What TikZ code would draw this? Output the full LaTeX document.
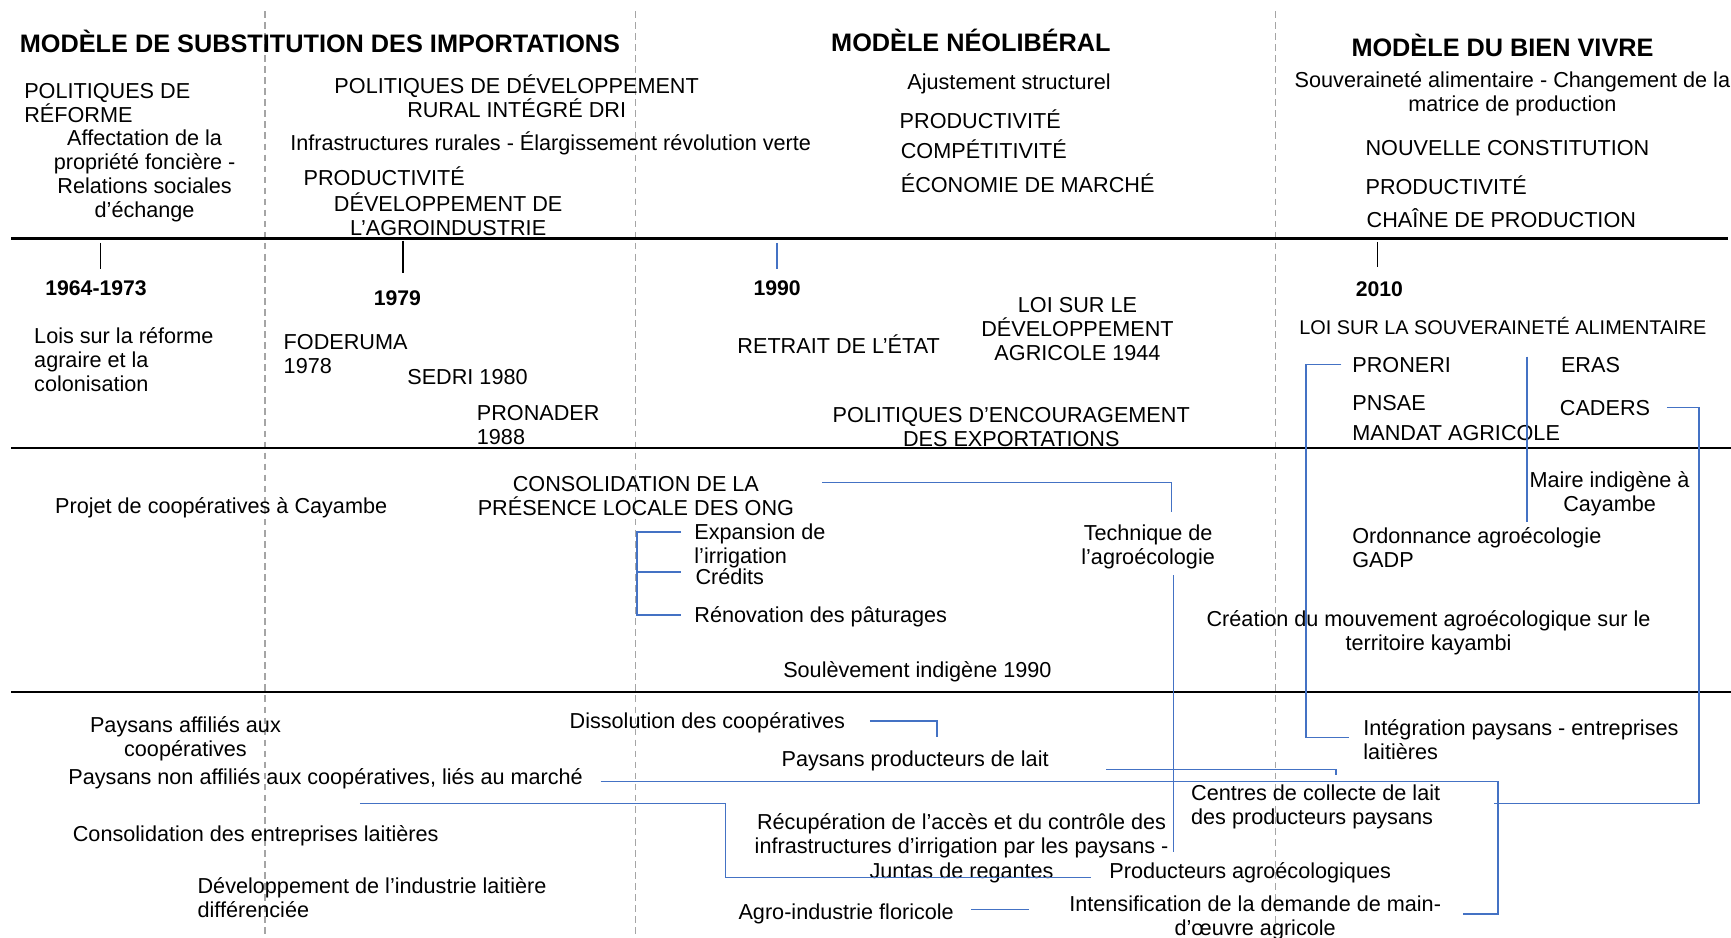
\documentclass[tikz,border=0pt]{standalone}
\usepackage{fontspec}
\setmainfont{Liberation Sans}
\usetikzlibrary{calc}
\definecolor{bl}{RGB}{68,114,196}
\definecolor{dg}{RGB}{165,165,165}
\newcommand\fs{\fontsize{9.8pt}{10.9pt}\selectfont\lineskiplimit=-20pt\relax}
\newcommand\fsm{\fontsize{9pt}{10.9pt}\selectfont\lineskiplimit=-20pt\relax}
\newcommand\sr{\rule[-0.22em]{0pt}{0.95em}}
\tikzset{
 tx/.style={font=\fs, inner sep=0pt, outer sep=0pt, yshift=-1pt, execute at begin node=\sr, execute at end node=\sr},
 tl/.style={tx, align=left, anchor=west},
 tc/.style={tx, align=center, anchor=center},
 ttl/.style={inner sep=0pt, outer sep=0pt, font=\fontsize{11.45pt}{13pt}\selectfont\bfseries, execute at begin node=\sr},
 yr/.style={inner sep=0pt, outer sep=0pt, yshift=-1pt, font=\fontsize{9.6pt}{11pt}\selectfont\bfseries, execute at begin node=\sr},
 blk/.style={line width=1pt, black},
 tickm/.style={line width=0.6pt, black},
 conn/.style={draw=bl, line width=0.7pt},
 sepl/.style={draw=dg, line width=0.5pt, dash pattern=on 3pt off 2pt},
}
\begin{document}
\begin{tikzpicture}[x=0.5pt,y=-0.5pt]
\fill[white] (0,0) rectangle (1568,849);
\useasboundingbox (0,0) rectangle (1568,849);

% separators
\coordinate (s1t) at (240,10); \coordinate (s1b) at (240,849);
\coordinate (s2t) at (576,10); \coordinate (s2b) at (576,849);
\coordinate (s3t) at (1155,10); \coordinate (s3b) at (1155,849);
\draw[sepl] (s1t) -- (s1b);
\draw[sepl] (s2t) -- (s2b);
\draw[sepl] (s3t) -- (s3b);

% horizontal rules
\coordinate (h1l) at (10,216); \coordinate (h1r) at (1565,216);
\coordinate (h2l) at (10,406); \coordinate (h2r) at (1568,406);
\coordinate (h3l) at (10,627); \coordinate (h3r) at (1568,627);
\draw[blk] (h1l) -- (h1r);
\draw[blk] (h2l) -- (h2r);
\draw[blk] (h3l) -- (h3r);

% titles
\node[ttl, anchor=west] (t1) at (18,40) {MODÈLE DE SUBSTITUTION DES IMPORTATIONS};
\node[ttl] (t2) at (879.5,39) {MODÈLE NÉOLIBÉRAL};
\node[ttl] (t3) at (1361,44) {MODÈLE DU BIEN VIVRE};

% top band
\node[tl] (polref) at (22,93.5) {POLITIQUES DE\\RÉFORME};
\node[tc] (affect) at (131,157.5) {Affectation de la\\propriété foncière -\\Relations sociales\\d’échange};
\node[tc] (poldev) at (468,87.5) {POLITIQUES DE DÉVELOPPEMENT\\RURAL INTÉGRÉ DRI};
\node[tl] (infra) at (263,128) {Infrastructures rurales - Élargissement révolution verte};
\node[tl] (prod1) at (275,160) {PRODUCTIVITÉ};
\node[tc] (devagro) at (406,194.5) {DÉVELOPPEMENT DE\\L’AGROINDUSTRIE};
\node[tc] (ajust) at (914,74) {Ajustement structurel};
\node[tl] (prod2) at (815,108) {PRODUCTIVITÉ};
\node[tl] (compet) at (816,135) {COMPÉTITIVITÉ};
\node[tl] (econ) at (816,166) {ÉCONOMIE DE MARCHÉ};
\node[tc] (souv) at (1370,83.5) {Souveraineté alimentaire - Changement de la\\matrice de production};
\node[tl] (nouv) at (1237,134) {NOUVELLE CONSTITUTION};
\node[tl] (prod3) at (1237,168) {PRODUCTIVITÉ};
\node[tl] (chaine) at (1238,198) {CHAÎNE DE PRODUCTION};

% ticks and years
\coordinate (k1a) at (91,220); \coordinate (k1b) at (91,244);
\coordinate (k2a) at (365,218); \coordinate (k2b) at (365,247);
\coordinate (k3a) at (704,220); \coordinate (k3b) at (704,244);
\coordinate (k4a) at (1248,219); \coordinate (k4b) at (1248,242);
\draw[tickm] (k1a) -- (k1b);
\draw[tickm] (k2a) -- (k2b);
\draw[conn] (k3a) -- (k3b);
\draw[tickm] (k4a) -- (k4b);
\node[yr] (y1) at (87,261) {1964-1973};
\node[yr] (y2) at (360,270) {1979};
\node[yr] (y3) at (704,261) {1990};
\node[yr] (y4) at (1249.5,262) {2010};

% second band
\node[tl] (lois) at (31,326) {Lois sur la réforme\\agraire et la\\colonisation};
\node[tl] (foderuma) at (257,320.5) {FODERUMA\\1978};
\node[tl] (sedri) at (369,341) {SEDRI 1980};
\node[tl] (pronader) at (432,385) {PRONADER\\1988};
\node[tl] (retrait) at (668,312) {RETRAIT DE L’ÉTAT};
\node[tc] (loidev) at (976,298.5) {LOI SUR LE\\DÉVELOPPEMENT\\AGRICOLE 1944};
\node[tc] (polenc) at (916,386.5) {POLITIQUES D’ENCOURAGEMENT\\DES EXPORTATIONS};
\node[tl, font=\fsm] (loisouv) at (1177,295) {LOI SUR LA SOUVERAINETÉ ALIMENTAIRE};
\node[tl] (proneri) at (1225,330) {PRONERI};
\node[tl] (eras) at (1414,330) {ERAS};
\node[tl] (pnsae) at (1225,365) {PNSAE};
\node[tl] (caders) at (1413,369) {CADERS};
\node[tl] (mandat) at (1225,392) {MANDAT AGRICOLE};

% third band
\node[tl] (projet) at (50,458) {Projet de coopératives à Cayambe};
\node[tc] (consol) at (576,449) {CONSOLIDATION DE LA\\PRÉSENCE LOCALE DES ONG};
\node[tl] (expan) at (629,493) {Expansion de\\l’irrigation};
\node[tl] (credits) at (630,522) {Crédits};
\node[tl] (renov) at (629,557) {Rénovation des pâturages};
\node[tc] (soulev) at (831,607) {Soulèvement indigène 1990};
\node[tc] (tech) at (1040,493.5) {Technique de\\l’agroécologie};
\node[tc] (maire) at (1458,445.5) {Maire indigène à\\Cayambe};
\node[tl] (ordon) at (1225,496.5) {Ordonnance agroécologie\\GADP};
\node[tc] (creation) at (1294,571.5) {Création du mouvement agroécologique sur le\\territoire kayambi};

% fourth band
\node[tc] (payaff) at (168,667.5) {Paysans affiliés aux\\coopératives};
\node[tl] (paynon) at (62,704) {Paysans non affiliés aux coopératives, liés au marché};
\node[tl] (consolent) at (66,755) {Consolidation des entreprises laitières};
\node[tl] (devind) at (179,813) {Développement de l’industrie laitière\\différenciée};
\node[tl] (dissol) at (516,653) {Dissolution des coopératives};
\node[tl] (payprod) at (708,687) {Paysans producteurs de lait};
\node[tc] (recup) at (871,766.5) {Récupération de l’accès et du contrôle des\\infrastructures d’irrigation par les paysans -\\Juntas de regantes};
\node[tl] (agroflor) at (669,826) {Agro-industrie floricole};
\node[tl] (centres) at (1079,729) {Centres de collecte de lait\\des producteurs paysans};
\node[tl] (prodagro) at (1005,789) {Producteurs agroécologiques};
\node[tc] (intens) at (1137,829.5) {Intensification de la demande de main-\\d’œuvre agricole};
\node[tl] (integ) at (1235,670) {Intégration paysans - entreprises\\laitières};

% blue connectors
\coordinate (c1a) at (745,437); \coordinate (c1b) at (1061,437); \coordinate (c1c) at (1061,464);
\draw[conn] (c1a) -- (c1b) -- (c1c);
\coordinate (c2a) at (1063,521); \coordinate (c2b) at (1063,772);
\draw[conn] (c2a) -- (c2b);
\coordinate (c3a) at (617,482); \coordinate (c3b) at (577,482); \coordinate (c3c) at (577,557);
\coordinate (c3d) at (617,557); \coordinate (c3e) at (577,518); \coordinate (c3f) at (617,518);
\draw[conn] (c3a) -- (c3b) -- (c3c) -- (c3d);
\draw[conn] (c3e) -- (c3f);
\coordinate (c4a) at (1215,330); \coordinate (c4b) at (1183,330); \coordinate (c4c) at (1183,668); \coordinate (c4d) at (1222,668);
\draw[conn] (c4a) -- (c4b) -- (c4c) -- (c4d);
\coordinate (c5a) at (1383,323); \coordinate (c5b) at (1383,473);
\draw[conn] (c5a) -- (c5b);
\coordinate (c6a) at (1510,369); \coordinate (c6b) at (1539,369); \coordinate (c6c) at (1539,728); \coordinate (c6d) at (1353,728);
\draw[conn] (c6a) -- (c6b) -- (c6c) -- (c6d);
\coordinate (c7a) at (544,708); \coordinate (c7b) at (1357,708); \coordinate (c7c) at (1357,828); \coordinate (c7d) at (1325,828);
\draw[conn] (c7a) -- (c7b) -- (c7c) -- (c7d);
\coordinate (c8a) at (326,728); \coordinate (c8b) at (657,728); \coordinate (c8c) at (657,795); \coordinate (c8d) at (988,795);
\draw[conn] (c8a) -- (c8b) -- (c8c) -- (c8d);
\coordinate (c9a) at (788,653); \coordinate (c9b) at (849,653); \coordinate (c9c) at (849,668);
\draw[conn] (c9a) -- (c9b) -- (c9c);
\coordinate (c10a) at (1002,697); \coordinate (c10b) at (1210,697); \coordinate (c10c) at (1210,702);
\draw[conn] (c10a) -- (c10b) -- (c10c);
\coordinate (c11a) at (880,824); \coordinate (c11b) at (932,824);
\draw[conn] (c11a) -- (c11b);
\end{tikzpicture}
\end{document}
